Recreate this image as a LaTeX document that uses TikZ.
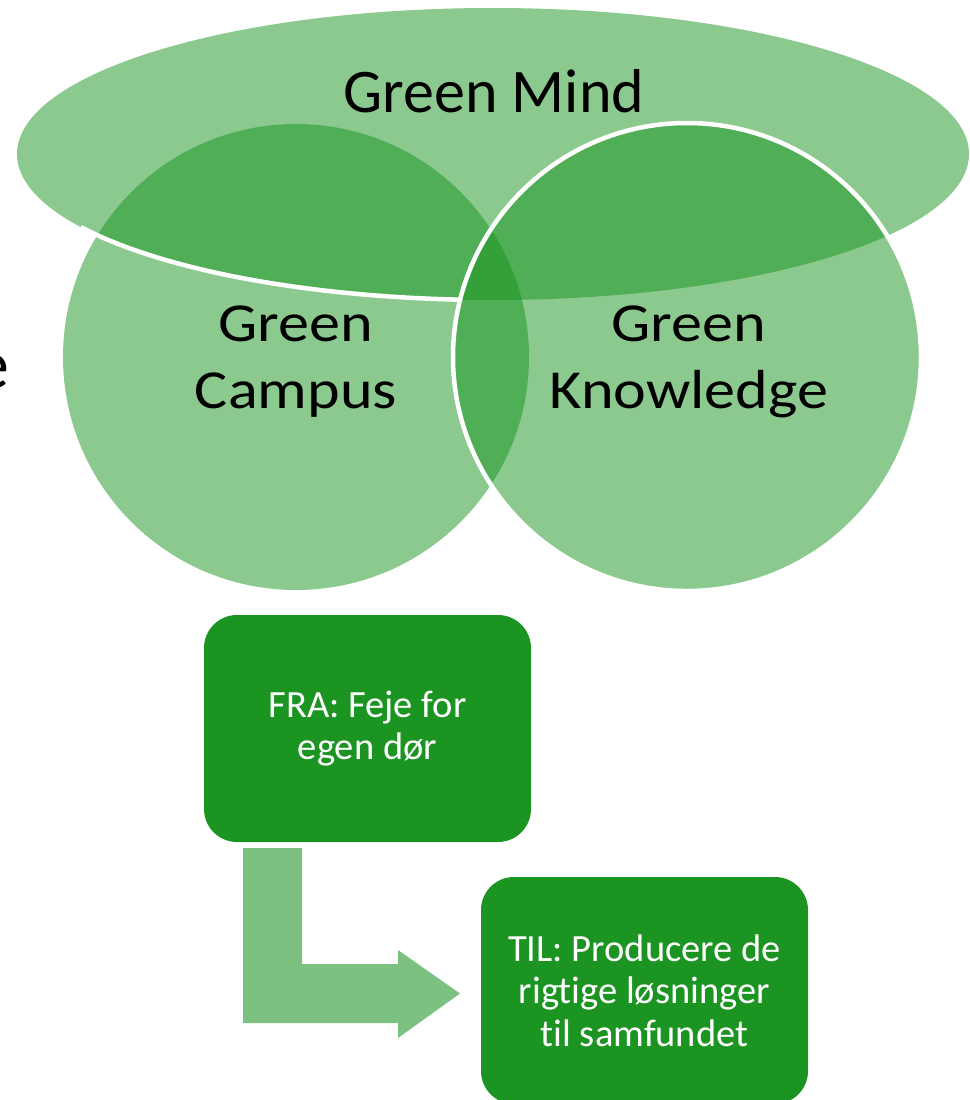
\documentclass[tikz,border=0pt]{standalone}
\usepackage{fontspec}
\setmainfont[Ligatures={NoCommon}]{Carlito}
\newfontfamily\wideCarlito[FakeStretch=1.13, Ligatures={NoCommon}]{Carlito}
\definecolor{venn}{RGB}{23,147,31}
\definecolor{boxgreen}{RGB}{27,148,34}
\definecolor{arrowgreen}{RGB}{124,193,128}
\begin{document}
\begin{tikzpicture}[x=1pt,y=-1pt,
  vennfill/.style={fill=venn, fill opacity=0.5},
  outline/.style={draw=white, line width=4.5pt},
  stepbox/.style={fill=boxgreen, rounded corners=33pt, minimum width=327pt, minimum height=227pt, inner sep=0pt},
  boxtext/.style={text=white, font=\fontsize{38.5}{42.5}\selectfont, align=center},
  venntext/.style={font=\wideCarlito\fontsize{55}{67}\selectfont, align=center, inner sep=0pt}]
\useasboundingbox (0,0) rectangle (969,1100);
% Venn shapes
\fill[vennfill] (296,357) circle (233);
\fill[vennfill] (493,154) ellipse [x radius=476, y radius=146];
\draw[outline] (493,154) ++(94:476 and 146) arc[start angle=94, end angle=150, x radius=476, y radius=146];
\fill[vennfill] (687,357) circle (234);
\draw[outline] (687,357) circle (234);
% Venn labels
\node[font=\fontsize{62}{74}\selectfont, anchor=base, inner sep=0pt] (mind) at (494,112) {Green Mind};
\node[venntext] (campus) at (296,362) {Green\\Campus};
\node[venntext] (knowledge) at (689,362) {Green\\Knowledge};
\node[font=\fontsize{70}{80}\selectfont, anchor=base east, inner sep=0pt] (cut) at (10,388) {e};
% process
\node[stepbox, boxtext] (fra) at (367.5,728.5) {FRA: Feje for\\egen dør};
\node[stepbox, boxtext] (til) at (644.5,990.5) {TIL: Producere de\\rigtige løsninger\\til samfundet};
\fill[arrowgreen] (243,848) -- (302,848) -- (302,964) -- (398,964) -- (398,950) -- (460,993.5) -- (398,1038) -- (398,1023) -- (243,1023) -- cycle;
\end{tikzpicture}
\end{document}
